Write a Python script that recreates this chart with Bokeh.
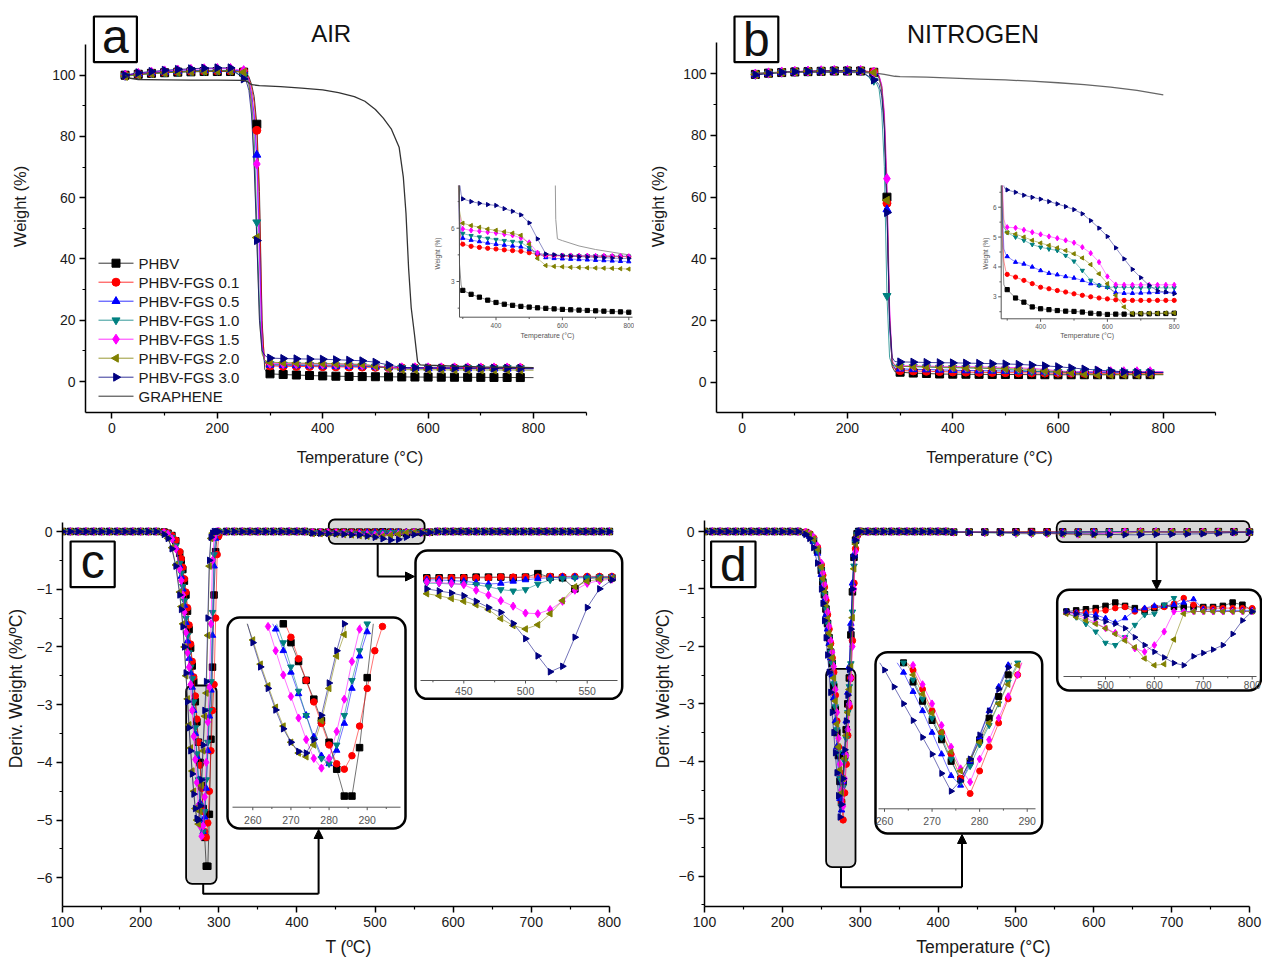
import math
from bokeh.plotting import figure
from bokeh.models import (Range1d, FixedTicker, Label, BoxAnnotation, Arrow, NormalHead)
from bokeh.layouts import column, row
from bokeh.embed import file_html
from bokeh.resources import INLINE
from bokeh.core.properties import value

FONT = "Liberation Sans"
NAN = float("nan")

# ----------------------------------------------------------------- data
series_names = ["PHBV", "PHBV-FGS 0.1", "PHBV-FGS 0.5", "PHBV-FGS 1.0",
                "PHBV-FGS 1.5", "PHBV-FGS 2.0", "PHBV-FGS 3.0"]
series_colors = ["#000000", "#ff0000", "#0000ff", "#008080", "#ff00ff", "#808000", "#000080"]
series_markers = ["square", "circle", "triangle", "inverted_triangle", "diamond", "triangle", "triangle"]
series_angles = [0.0, 0.0, 0.0, 0.0, 0.0, math.pi / 2, -math.pi / 2]
graphene_name = "GRAPHENE"

# TGA temperature grid (deg C)
tga_T = [25, 50, 75, 100, 125, 150, 175, 200, 225, 250,
         255, 260, 265, 270, 275, 280, 285, 290, 295,
         300, 325, 350, 375, 400, 425, 450, 475, 500, 525, 550,
         575, 600, 625, 650, 675, 700, 725, 750, 775, 800]

# TGA in air, weight (%)
air_phbv = [100.0, 100.3, 100.6, 100.8, 101.0, 101.1, 101.2, 101.2, 101.2, 101.0,
            100.5, 99.5, 97.0, 93.0, 84.0, 62.0, 20.0, 4.0, 2.8,
            2.5, 2.28, 2.12, 1.95, 1.82, 1.72, 1.66, 1.6, 1.56, 1.52, 1.49,
            1.46, 1.43, 1.41, 1.39, 1.37, 1.35, 1.33, 1.31, 1.29, 1.27]
air_fgs01 = [100.0, 100.4, 100.7, 101.0, 101.2, 101.3, 101.4, 101.4, 101.4, 101.2,
             100.5, 99.0, 96.0, 91.0, 82.0, 58.0, 18.0, 6.0, 5.3,
             5.1, 4.98, 4.92, 4.87, 4.83, 4.78, 4.74, 4.7, 4.62, 4.52, 4.46,
             4.45, 4.44, 4.44, 4.43, 4.43, 4.42, 4.42, 4.41, 4.41, 4.4]
air_fgs05 = [100.0, 100.5, 100.8, 101.1, 101.3, 101.5, 101.6, 101.6, 101.6, 101.4,
             100.3, 98.0, 94.0, 87.0, 74.0, 45.0, 12.0, 6.2, 5.6,
             5.44, 5.33, 5.25, 5.17, 5.1, 5.05, 5.0, 4.95, 4.8, 4.6, 4.35,
             4.3, 4.28, 4.26, 4.24, 4.22, 4.2, 4.18, 4.16, 4.14, 4.12]
air_fgs10 = [99.8, 100.2, 100.6, 100.9, 101.1, 101.3, 101.4, 101.5, 101.5, 99.6,
             99.0, 97.0, 92.0, 80.0, 52.0, 25.0, 10.0, 6.4, 5.9,
             5.7, 5.58, 5.5, 5.43, 5.36, 5.3, 5.25, 5.2, 4.9, 4.6, 4.5,
             4.48, 4.47, 4.46, 4.45, 4.45, 4.44, 4.43, 4.43, 4.42, 4.42]
air_fgs15 = [100.0, 100.6, 101.0, 101.4, 101.7, 101.9, 102.1, 102.2, 102.2, 101.5,
             100.5, 98.5, 93.0, 85.0, 71.0, 40.0, 12.0, 6.8, 6.2,
             5.96, 5.88, 5.83, 5.78, 5.73, 5.66, 5.6, 5.45, 5.2, 4.62, 4.48,
             4.47, 4.46, 4.46, 4.45, 4.45, 4.44, 4.44, 4.43, 4.43, 4.42]
air_fgs20 = [99.6, 100.1, 100.5, 100.8, 101.0, 101.2, 101.3, 101.4, 101.4, 101.0,
             100.0, 97.0, 90.0, 72.0, 47.0, 20.0, 9.0, 7.0, 6.5,
             6.28, 6.15, 6.05, 5.95, 5.88, 5.8, 5.72, 5.6, 5.1, 4.3, 3.9,
             3.85, 3.83, 3.8, 3.79, 3.77, 3.76, 3.75, 3.74, 3.72, 3.7]
air_fgs30 = [100.0, 100.8, 101.2, 101.6, 101.9, 102.1, 102.3, 102.4, 102.4, 98.8,
             98.0, 95.0, 87.0, 70.0, 46.0, 20.0, 10.0, 8.6, 7.9,
             7.65, 7.5, 7.4, 7.33, 7.28, 7.1, 6.95, 6.75, 6.3, 5.4, 4.55,
             4.5, 4.45, 4.42, 4.4, 4.38, 4.36, 4.34, 4.32, 4.3, 4.3]
graphene_air_T = [25, 35, 50, 100, 150, 200, 250, 258, 265, 280, 320, 360, 400, 430, 460,
                  480, 500, 515, 530, 545, 553, 558, 563, 568, 574, 580, 585, 600, 650,
                  700, 750, 800]
graphene_air_W = [100.0, 99.0, 98.6, 98.5, 98.4, 98.4, 98.3, 97.8, 96.9, 96.6, 96.3, 95.8,
                  95.2, 94.3, 93.0, 91.5, 88.8, 86.0, 82.5, 76.5, 66.7, 55.0, 37.0, 24.0,
                  15.6, 6.5, 5.4, 5.3, 5.0, 4.8, 4.65, 4.5]

# TGA in nitrogen, weight (%)
n2_phbv = [99.8, 100.2, 100.4, 100.6, 100.7, 100.8, 100.9, 100.9, 100.9, 100.5,
           100.2, 99.2, 96.0, 86.0, 60.0, 22.0, 5.0, 3.4, 3.3,
           3.24, 2.96, 2.82, 2.66, 2.6, 2.57, 2.54, 2.52, 2.51, 2.49, 2.45,
           2.43, 2.41, 2.42, 2.42, 2.42, 2.43, 2.43, 2.44, 2.44, 2.45]
n2_fgs01 = [99.8, 100.2, 100.5, 100.7, 100.8, 100.9, 101.0, 101.0, 101.0, 100.6,
            100.2, 99.0, 95.5, 85.0, 58.0, 20.0, 5.5, 4.2, 3.9,
            3.75, 3.66, 3.55, 3.44, 3.32, 3.27, 3.21, 3.16, 3.1, 3.05, 3.0,
            2.96, 2.93, 2.9, 2.88, 2.88, 2.88, 2.88, 2.88, 2.88, 2.88]
n2_fgs05 = [99.8, 100.2, 100.5, 100.7, 100.8, 100.9, 101.0, 101.0, 101.0, 100.4,
            100.0, 98.8, 95.0, 84.0, 56.0, 18.0, 6.0, 4.6, 4.45,
            4.35, 4.16, 4.1, 4.0, 3.88, 3.79, 3.74, 3.68, 3.63, 3.55, 3.44,
            3.38, 3.32, 3.14, 3.12, 3.12, 3.13, 3.14, 3.15, 3.15, 3.15]
n2_fgs10 = [99.7, 100.1, 100.4, 100.6, 100.7, 100.8, 100.9, 100.9, 100.8, 97.8,
            97.0, 95.0, 88.0, 70.0, 28.0, 8.0, 5.5, 5.3, 5.25,
            5.15, 5.0, 4.89, 4.75, 4.66, 4.6, 4.55, 4.38, 4.19, 3.88, 3.55,
            3.38, 3.32, 3.32, 3.31, 3.31, 3.3, 3.3, 3.3, 3.3, 3.3]
n2_fgs15 = [99.9, 100.3, 100.6, 100.8, 100.9, 101.0, 101.1, 101.1, 101.1, 100.5,
            100.3, 99.5, 96.5, 88.0, 66.0, 25.0, 7.0, 5.6, 5.4,
            5.33, 5.31, 5.24, 5.16, 5.09, 5.02, 4.96, 4.89, 4.81, 4.66, 4.46,
            4.16, 3.68, 3.41, 3.4, 3.4, 3.4, 3.4, 3.4, 3.4, 3.4]
n2_fgs20 = [99.8, 100.2, 100.5, 100.7, 100.8, 100.9, 101.0, 101.0, 101.0, 100.4,
            100.0, 98.5, 95.0, 84.0, 59.0, 20.0, 6.5, 5.4, 5.25,
            5.15, 5.1, 5.0, 4.89, 4.8, 4.72, 4.64, 4.55, 4.44, 4.3, 4.08,
            3.77, 3.44, 3.05, 2.66, 2.45, 2.45, 2.45, 2.45, 2.46, 2.46]
n2_fgs30 = [99.7, 100.2, 100.5, 100.7, 100.8, 100.9, 101.0, 101.0, 101.0, 98.0,
            97.5, 96.5, 93.0, 82.0, 55.0, 20.0, 8.0, 6.7, 6.6,
            6.58, 6.5, 6.4, 6.33, 6.27, 6.19, 6.11, 6.02, 5.92, 5.78, 5.55,
            5.3, 5.02, 4.64, 4.27, 3.92, 3.64, 3.38, 3.2, 3.16, 3.1]
graphene_n2_T = [25, 50, 100, 150, 200, 250, 270, 290, 300, 350, 400, 450, 500, 550,
                 600, 650, 700, 750, 800]
graphene_n2_W = [100.2, 100.4, 100.5, 100.5, 100.5, 100.3, 99.8, 99.2, 99.1, 98.9, 98.6,
                 98.3, 98.0, 97.6, 97.1, 96.5, 95.7, 94.6, 93.2]

# DTG: temperature grids (deg C) and derivative weight (%/deg C)
dtg_T_lo = [100, 110, 120, 130, 140, 150, 160, 170, 180, 190, 200, 210, 220]
dtg_V_lo = [0, 0, 0, 0, 0, 0, 0, 0, 0, 0, 0, 0, 0]
dtg_T_peak = [230, 235, 240, 245, 250, 252, 254, 256, 258, 260, 262, 264, 266, 268, 270,
              272, 274, 276, 278, 280, 282, 284, 286, 288, 290, 292, 294, 296, 298, 300]
dtg_T_mid = [310, 320, 330, 340, 350, 360, 370, 380, 390, 400, 410]
dtg_V_mid = [0, 0, 0, 0, 0, 0, 0, 0, 0, 0, 0]

air_dtg_phbv = [-0.01, -0.03, -0.07, -0.16, -0.38, -0.5, -0.66, -0.86, -1.1, -1.38, -1.7,
                -2.02, -2.33, -2.6, -2.95, -3.3, -3.65, -4.0, -4.4, -4.8, -5.3, -5.8,
                -5.8, -4.9, -3.6, -2.35, -1.1, -0.35, -0.08, -0.02]
air_dtg_fgs01 = [-0.01, -0.03, -0.07, -0.15, -0.35, -0.47, -0.62, -0.82, -1.05, -1.32,
                 -1.62, -1.95, -2.25, -2.52, -2.85, -3.25, -3.65, -4.05, -4.45, -4.85,
                 -5.2, -5.3, -5.05, -4.5, -3.8, -3.1, -2.65, -1.5, -0.4, -0.08]
air_dtg_fgs05 = [-0.02, -0.05, -0.12, -0.28, -0.6, -0.78, -1.0, -1.28, -1.58, -1.9, -2.2,
                 -2.45, -2.7, -3.1, -3.5, -3.9, -4.3, -4.7, -5.05, -5.2, -4.95, -4.45,
                 -3.8, -3.2, -2.75, -1.8, -0.6, -0.12, -0.03, 0.0]
air_dtg_fgs10 = [-0.02, -0.04, -0.1, -0.25, -0.55, -0.72, -0.95, -1.2, -1.5, -1.8, -2.1,
                 -2.35, -2.55, -2.95, -3.4, -3.85, -4.3, -4.75, -5.1, -5.2, -4.85, -4.3,
                 -3.65, -3.1, -2.6, -1.4, -0.4, -0.08, -0.02, 0.0]
air_dtg_fgs15 = [-0.02, -0.05, -0.13, -0.3, -0.65, -0.85, -1.1, -1.4, -1.75, -2.1, -2.35,
                 -2.65, -3.1, -3.55, -3.95, -4.35, -4.75, -5.1, -5.28, -5.1, -4.6, -4.0,
                 -3.3, -2.7, -1.6, -0.5, -0.1, -0.02, 0.0, 0.0]
air_dtg_fgs20 = [-0.05, -0.12, -0.28, -0.58, -1.05, -1.3, -1.6, -2.0, -2.5, -2.9, -3.35,
                 -3.75, -4.15, -4.5, -4.8, -5.0, -5.07, -4.85, -4.4, -3.8, -3.2, -2.8,
                 -1.8, -0.6, -0.12, -0.03, 0.0, 0.0, 0.0, 0.0]
air_dtg_fgs30 = [-0.05, -0.12, -0.3, -0.6, -1.1, -1.35, -1.65, -2.0, -2.45, -2.95, -3.4,
                 -3.8, -4.2, -4.55, -4.8, -4.97, -5.0, -4.75, -4.3, -3.7, -3.1, -2.6,
                 -1.5, -0.5, -0.1, -0.03, 0.0, 0.0, 0.0, 0.0]

air_zoom_T = [420, 430, 440, 450, 460, 470, 480, 490, 500, 510, 520, 530, 540, 550, 560, 570]
air_zoom_phbv = [-0.012, -0.012, -0.012, -0.012, -0.011, -0.011, -0.011, -0.012, -0.011,
                 -0.006, -0.011, -0.012, -0.028, -0.013, -0.012, -0.012]
air_zoom_fgs01 = [-0.013, -0.013, -0.012, -0.012, -0.012, -0.012, -0.011, -0.011, -0.011,
                  -0.011, -0.01, -0.01, -0.01, -0.01, -0.01, -0.01]
air_zoom_fgs05 = [-0.015, -0.015, -0.016, -0.017, -0.019, -0.021, -0.02, -0.017, -0.015,
                  -0.013, -0.012, -0.011, -0.011, -0.011, -0.011, -0.011]
air_zoom_fgs10 = [-0.02, -0.02, -0.021, -0.021, -0.022, -0.025, -0.029, -0.031, -0.029,
                  -0.021, -0.015, -0.013, -0.012, -0.012, -0.011, -0.011]
air_zoom_fgs15 = [-0.018, -0.019, -0.02, -0.022, -0.03, -0.037, -0.045, -0.053, -0.063,
                  -0.064, -0.058, -0.046, -0.03, -0.02, -0.016, -0.014]
air_zoom_fgs20 = [-0.035, -0.038, -0.042, -0.046, -0.051, -0.058, -0.071, -0.081, -0.086,
                  -0.08, -0.064, -0.045, -0.025, -0.017, -0.014, -0.013]
air_zoom_fgs30 = [-0.028, -0.031, -0.034, -0.038, -0.046, -0.055, -0.062, -0.078, -0.1,
                  -0.125, -0.148, -0.14, -0.098, -0.055, -0.028, -0.015]
air_T_tail = [580, 590, 600, 610, 620, 630, 640, 650, 660, 670, 680, 690, 700, 710, 720,
              730, 740, 750, 760, 770, 780, 790, 800]
air_V_tail = [0, 0, 0, 0, 0, 0, 0, 0, 0, 0, 0, 0, 0, 0, 0, 0, 0, 0, 0, 0, 0, 0, 0]

n2_dtg_phbv = [-0.02, -0.06, -0.15, -0.33, -0.68, -0.88, -1.1, -1.35, -1.6, -1.85, -2.1,
               -2.3, -2.7, -3.1, -3.5, -3.9, -4.35, -4.72, -4.35, -3.9, -3.45, -3.0,
               -2.55, -1.8, -1.05, -0.45, -0.15, -0.04, 0.0, 0.0]
n2_dtg_fgs01 = [-0.01, -0.04, -0.11, -0.27, -0.58, -0.76, -0.97, -1.2, -1.45, -1.7, -1.95,
                -2.2, -2.45, -2.85, -3.3, -3.75, -4.2, -4.7, -5.02, -4.55, -4.05, -3.55,
                -3.05, -2.55, -1.9, -0.9, -0.3, -0.08, -0.02, 0.0]
n2_dtg_fgs05 = [-0.03, -0.08, -0.18, -0.38, -0.75, -0.95, -1.2, -1.45, -1.7, -1.95, -2.2,
                -2.5, -2.9, -3.3, -3.75, -4.2, -4.65, -4.85, -4.35, -3.85, -3.3, -2.8,
                -2.35, -1.6, -0.9, -0.4, -0.12, -0.03, 0.0, 0.0]
n2_dtg_fgs10 = [-0.02, -0.06, -0.15, -0.33, -0.68, -0.88, -1.1, -1.35, -1.6, -1.85, -2.1,
                -2.3, -2.65, -3.05, -3.45, -3.85, -4.3, -4.78, -4.45, -4.0, -3.6, -3.15,
                -2.7, -2.3, -1.4, -0.6, -0.2, -0.05, 0.0, 0.0]
n2_dtg_fgs15 = [-0.01, -0.04, -0.1, -0.25, -0.55, -0.72, -0.92, -1.15, -1.4, -1.65, -1.9,
                -2.1, -2.35, -2.75, -3.15, -3.6, -4.05, -4.5, -4.78, -4.3, -3.9, -3.45,
                -3.0, -2.55, -2.0, -1.0, -0.35, -0.1, -0.02, 0.0]
n2_dtg_fgs20 = [-0.02, -0.05, -0.13, -0.3, -0.62, -0.82, -1.03, -1.27, -1.52, -1.77, -2.0,
                -2.2, -2.55, -2.95, -3.35, -3.75, -4.15, -4.55, -4.3, -3.95, -3.55, -3.15,
                -2.75, -2.35, -1.5, -0.65, -0.22, -0.06, 0.0, 0.0]
n2_dtg_fgs30 = [-0.05, -0.12, -0.28, -0.55, -1.0, -1.25, -1.55, -1.85, -2.15, -2.45, -2.8,
                -3.15, -3.5, -3.85, -4.2, -4.6, -4.97, -4.75, -4.3, -3.8, -3.3, -2.85,
                -2.4, -1.7, -1.0, -0.45, -0.15, -0.04, 0.0, 0.0]

n2_zoom_T = [420, 440, 460, 480, 500, 520, 540, 560, 580, 600, 620, 640, 660, 680, 700,
             720, 740, 760, 780, 800]
n2_zoom_phbv = [-0.01, -0.009, -0.008, -0.007, -0.005, -0.002, -0.005, -0.007, -0.01, -0.007,
                -0.005, -0.006, -0.006, -0.006, -0.006, -0.006, -0.005, -0.002, -0.004, -0.009]
n2_zoom_fgs01 = [-0.011, -0.011, -0.011, -0.01, -0.009, -0.007, -0.006, -0.01, -0.008, -0.006,
                 -0.006, -0.003, 0.002, -0.004, -0.007, -0.007, -0.007, -0.007, -0.007, -0.007]
n2_zoom_fgs05 = [-0.01, -0.011, -0.012, -0.013, -0.016, -0.02, -0.016, -0.009, -0.007, -0.005,
                 -0.005, -0.004, -0.002, 0.001, -0.008, -0.009, -0.009, -0.009, -0.009, -0.009]
n2_zoom_fgs10 = [-0.011, -0.015, -0.021, -0.028, -0.038, -0.04, -0.033, -0.022, -0.013, -0.012,
                 -0.004, 0.002, -0.01, -0.01, -0.01, -0.01, -0.01, -0.01, -0.01, -0.01]
n2_zoom_fgs15 = [-0.011, -0.013, -0.016, -0.02, -0.025, -0.029, -0.034, -0.043, -0.046, -0.04,
                 -0.028, -0.01, -0.01, -0.01, -0.01, -0.01, -0.01, -0.01, -0.01, -0.01]
n2_zoom_fgs20 = [-0.012, -0.015, -0.018, -0.021, -0.025, -0.03, -0.036, -0.042, -0.052, -0.058,
                 -0.057, -0.035, -0.012, -0.01, -0.01, -0.01, -0.01, -0.01, -0.01, -0.01]
n2_zoom_fgs30 = [-0.01, -0.012, -0.014, -0.016, -0.019, -0.021, -0.025, -0.033, -0.04, -0.046,
                 -0.051, -0.056, -0.058, -0.05, -0.047, -0.044, -0.04, -0.03, -0.018, -0.01]

air_tga = [air_phbv, air_fgs01, air_fgs05, air_fgs10, air_fgs15, air_fgs20, air_fgs30]
n2_tga = [n2_phbv, n2_fgs01, n2_fgs05, n2_fgs10, n2_fgs15, n2_fgs20, n2_fgs30]
air_dtg = [air_dtg_phbv, air_dtg_fgs01, air_dtg_fgs05, air_dtg_fgs10, air_dtg_fgs15,
           air_dtg_fgs20, air_dtg_fgs30]
air_zoom = [air_zoom_phbv, air_zoom_fgs01, air_zoom_fgs05, air_zoom_fgs10, air_zoom_fgs15,
            air_zoom_fgs20, air_zoom_fgs30]
n2_dtg = [n2_dtg_phbv, n2_dtg_fgs01, n2_dtg_fgs05, n2_dtg_fgs10, n2_dtg_fgs15,
          n2_dtg_fgs20, n2_dtg_fgs30]
n2_zoom = [n2_zoom_phbv, n2_zoom_fgs01, n2_zoom_fgs05, n2_zoom_fgs10, n2_zoom_fgs15,
           n2_zoom_fgs20, n2_zoom_fgs30]


# ----------------------------------------------------------------- helpers
class Cal:
    """Linear map between a value axis and page pixels (two calibration points)."""
    def __init__(self, va, pa, vb, pb):
        self.va, self.pa = va, pa
        self.k = (vb - va) / (pb - pa)

    def v(self, p):
        return self.va + (p - self.pa) * self.k


class Panel:
    def __init__(self, ox, oy, w, h, fl, fr, ft, fb, cx, cy):
        self.cx, self.cy = cx, cy
        self.fl, self.fr, self.ft, self.fb = fl, fr, ft, fb
        p = figure(width=w, height=h,
                   x_range=Range1d(cx.v(fl), cx.v(fr)),
                   y_range=Range1d(cy.v(fb), cy.v(ft)),
                   output_backend="svg", toolbar_location=None,
                   min_border_left=fl - ox, min_border_right=ox + w - fr,
                   min_border_top=ft - oy, min_border_bottom=oy + h - fb)
        p.outline_line_color = None
        p.grid.visible = False
        p.background_fill_color = "white"
        p.border_fill_color = "white"
        self.p = p

    def add_inset(self, name, cx, cy):
        self.p.extra_x_ranges[name] = Range1d(cx.v(self.fl), cx.v(self.fr))
        self.p.extra_y_ranges[name] = Range1d(cy.v(self.fb), cy.v(self.ft))

    def box(self, l, t, r, b, fill, lw, radius=0, level="underlay"):
        self.p.add_layout(BoxAnnotation(left=self.cx.v(l), right=self.cx.v(r),
                                        top=self.cy.v(t), bottom=self.cy.v(b),
                                        fill_color=fill, fill_alpha=1.0,
                                        line_color="black", line_alpha=1.0, line_width=lw,
                                        border_radius=radius, level=level))

    def label(self, px, py, text, size, angle=0.0, align="center", color="#111111"):
        self.p.add_layout(Label(x=self.cx.v(px), y=self.cy.v(py), text=text,
                                text_font=FONT, text_font_size=size,
                                text_align=align, text_baseline="middle",
                                angle=angle, text_color=color))

    def connector(self, pts):
        xs = [self.cx.v(a) for a, b in pts]
        ys = [self.cy.v(b) for a, b in pts]
        self.p.line(xs[:-1], ys[:-1], line_color="black", line_width=2)
        self.p.add_layout(Arrow(end=NormalHead(size=9, fill_color="black", line_color="black"),
                                x_start=xs[-2], y_start=ys[-2], x_end=xs[-1], y_end=ys[-1],
                                line_color="black", line_width=2))


def main_axes(P, xt, xminor, xb, yt, yminor, yb, xlabel, ylabel, xstand, ystand,
              tick_fs="14px", lab_fs="16.5px"):
    specs = ((P.p.xaxis[0], xt, xminor, xb, xlabel, xstand),
             (P.p.yaxis[0], yt, yminor, yb, ylabel, ystand))
    for ax, t, mn, b, lab, st in specs:
        ax.ticker = FixedTicker(ticks=t, minor_ticks=mn)
        ax.bounds = b
        ax.axis_label = lab
        ax.axis_label_text_font = FONT
        ax.axis_label_text_font_size = lab_fs
        ax.axis_label_text_font_style = "normal"
        ax.axis_label_text_color = "#1a1a1a"
        ax.axis_label_standoff = st
        ax.major_label_text_font = FONT
        ax.major_label_text_font_size = tick_fs
        ax.major_label_text_color = "#1a1a1a"
        ax.major_label_standoff = 4
        ax.axis_line_width = 1.5
        ax.major_tick_line_width = 1.5
        ax.minor_tick_line_width = 1.2
        ax.major_tick_in = 0
        ax.major_tick_out = 6
        ax.minor_tick_in = 0
        ax.minor_tick_out = 3


def clip_poly(xs, ys, lo, hi):
    ox, oy = [], []
    for i in range(len(xs)):
        x, y = xs[i], ys[i]
        ins = lo <= y <= hi
        if i == 0:
            if ins:
                ox.append(x); oy.append(y)
            continue
        x0, y0 = xs[i - 1], ys[i - 1]
        ins0 = lo <= y0 <= hi
        if ins0 and ins:
            ox.append(x); oy.append(y)
            continue
        pts = []
        for bnd in (lo, hi):
            if (y0 - bnd) * (y - bnd) < 0:
                t = (bnd - y0) / (y - y0)
                pts.append((t, x0 + t * (x - x0), bnd))
        pts.sort()
        if ins0 and not ins and pts:
            ox += [pts[0][1], NAN]; oy += [pts[0][2], NAN]
        elif ins and not ins0 and pts:
            ox += [pts[-1][1], x]; oy += [pts[-1][2], y]
        elif len(pts) == 2:
            ox += [pts[0][1], pts[1][1], NAN]; oy += [pts[0][2], pts[1][2], NAN]
    return ox, oy


def scatter(p, xs, ys, i, size, **kw):
    return p.scatter(xs, ys, marker=series_markers[i], angle=series_angles[i],
                     size=size * (1.25 if series_markers[i] == "diamond" else 1.0),
                     fill_color=series_colors[i], line_color=series_colors[i], **kw)


def inset_xaxis(P, name, cx, cy, py, px0, px1, major, minor, labels, py_lab, fs,
                color="#555555", tick=3):
    p = P.p
    kw = dict(x_range_name=name, y_range_name=name, line_color=color, line_width=1)
    y0, y1, y2 = cy.v(py), cy.v(py + tick), cy.v(py + tick * 0.6)
    p.segment([cx.v(px0)], [y0], [cx.v(px1)], [y0], **kw)
    p.segment(major, [y0] * len(major), major, [y1] * len(major), **kw)
    p.segment(minor, [y0] * len(minor), minor, [y2] * len(minor), **kw)
    p.text(major, [cy.v(py_lab)] * len(major), text=labels, x_range_name=name,
           y_range_name=name, text_font=value(FONT), text_font_size=value(fs),
           text_color=color, text_align="center", text_baseline="middle")


def inset_yaxis(P, name, cx, cy, px, py0, py1, major, minor, labels, px_lab, fs,
                color="#555555", tick=3):
    p = P.p
    kw = dict(x_range_name=name, y_range_name=name, line_color=color, line_width=1)
    x0, x1, x2 = cx.v(px), cx.v(px - tick), cx.v(px - tick * 0.6)
    p.segment([x0], [cy.v(py0)], [x0], [cy.v(py1)], **kw)
    p.segment([x0] * len(major), major, [x1] * len(major), major, **kw)
    p.segment([x0] * len(minor), minor, [x2] * len(minor), minor, **kw)
    p.text([cx.v(px_lab)] * len(major), major, text=labels, x_range_name=name,
           y_range_name=name, text_font=value(FONT), text_font_size=value(fs),
           text_color=color, text_align="right", text_baseline="middle")


def panel_letter(P, l, t, r, b, letter):
    P.box(l, t, r, b, "white", 2.2, 0, level="annotation")
    P.label((l + r) / 2, (t + b) / 2 - (0 if letter in "bd" else 3), letter, "48px")


# ----------------------------------------------------------------- panel a (air TGA)
A = Panel(0, 0, 634, 470, 85, 634, 0, 412, Cal(0, 111.4, 800, 533.0), Cal(100, 74.7, 0, 381.0))
main_axes(A, [0, 200, 400, 600, 800], [100, 300, 500, 700, 900], (A.cx.v(85), 900),
          [0, 20, 40, 60, 80, 100], [10, 30, 50, 70, 90], (A.cy.v(412), 110),
          "Temperature (°C)", "Weight (%)", 12, 20)

for i, ys in enumerate(air_tga):
    A.p.line(tga_T, ys, line_color=series_colors[i], line_width=1, line_alpha=0.75)
for i, ys in enumerate(air_tga):
    mx = [t for t in tga_T if t % 25 == 0 and t <= 775]
    my = [y for t, y in zip(tga_T, ys) if t % 25 == 0 and t <= 775]
    scatter(A.p, mx, my, i, 8)
A.p.line(graphene_air_T, graphene_air_W, line_color="#333333", line_width=1.3)

# legend (drawn so the 2.0 / 3.0 symbols keep their left / right orientation)
for k in range(8):
    py = 262.7 + 19 * k
    ly = A.cy.v(py)
    col = series_colors[k] if k < 7 else "#333333"
    A.p.line([A.cx.v(98), A.cx.v(133)], [ly, ly], line_color=col, line_width=1,
             line_alpha=0.8 if k < 7 else 1.0)
    if k < 7:
        scatter(A.p, [A.cx.v(115.5)], [ly], k, 8)
    A.label(138, py, series_names[k] if k < 7 else graphene_name, "15px", align="left",
            color="#1a1a1a")

# inset a
cax, cay = Cal(300, 462.3, 800, 628.3), Cal(6, 227.7, 3, 281.0)
A.add_inset("ia", cax, cay)
ylo, yhi = cay.v(316.7), cay.v(185)
for i, ys in enumerate(air_tga):
    lx, ly = clip_poly(tga_T, ys, ylo, yhi)
    A.p.line(lx, ly, x_range_name="ia", y_range_name="ia", line_color=series_colors[i],
             line_width=1, line_alpha=0.45)
glx, gly = clip_poly(graphene_air_T, graphene_air_W, ylo, yhi)
A.p.line(glx, gly, x_range_name="ia", y_range_name="ia", line_color="#999999", line_width=1)
for i, ys in enumerate(air_tga):
    mx = [t for t, y in zip(tga_T, ys) if t >= 300 and ylo <= y <= yhi]
    my = [y for t, y in zip(tga_T, ys) if t >= 300 and ylo <= y <= yhi]
    scatter(A.p, mx, my, i, 4.2, x_range_name="ia", y_range_name="ia")
inset_xaxis(A, "ia", cax, cay, 316.7, 459, 632, [400, 600, 800], [300, 500, 700],
            ["400", "600", "800"], 325, "6.5px")
inset_yaxis(A, "ia", cax, cay, 459, 316.7, 185, [3, 6], [1.5, 4.5, 7.5], ["3", "6"], 454, "6.5px")
A.p.text([cax.v(547)], [cay.v(335)], text=["Temperature (°C)"], x_range_name="ia",
         y_range_name="ia", text_font=value(FONT), text_font_size=value("7px"),
         text_color="#555555", text_align="center", text_baseline="middle")
A.p.text([cax.v(437)], [cay.v(253)], text=["Weight (%)"], x_range_name="ia",
         y_range_name="ia", text_font=value(FONT), text_font_size=value("6.5px"),
         text_color="#555555", text_align="center", text_baseline="middle", angle=math.pi / 2)

panel_letter(A, 93.4, 16, 136.4, 61.7, "a")
A.label(330.7, 33, "AIR", "24px")

# ----------------------------------------------------------------- panel b (N2 TGA)
B = Panel(634, 0, 628, 470, 716, 1262, 0, 412, Cal(0, 741.7, 800, 1162.8), Cal(100, 73.3, 0, 381.7))
main_axes(B, [0, 200, 400, 600, 800], [100, 300, 500, 700, 900], (B.cx.v(716), 900),
          [0, 20, 40, 60, 80, 100], [10, 30, 50, 70, 90], (B.cy.v(412), 110),
          "Temperature (°C)", "Weight (%)", 12, 13)
for i, ys in enumerate(n2_tga):
    B.p.line(tga_T, ys, line_color=series_colors[i], line_width=1, line_alpha=0.75)
B.p.line(graphene_n2_T, graphene_n2_W, line_color="#666666", line_width=1.3)
for i, ys in enumerate(n2_tga):
    mx = [t for t in tga_T if t % 25 == 0 and t <= 775]
    my = [y for t, y in zip(tga_T, ys) if t % 25 == 0 and t <= 775]
    scatter(B.p, mx, my, i, 8)

cbx, cby = Cal(300, 1006.7, 800, 1173.7), Cal(6, 206.7, 3, 296.3)
B.add_inset("ib", cbx, cby)
ylo, yhi = cby.v(318.3), cby.v(185)
for i, ys in enumerate(n2_tga):
    lx, ly = clip_poly(tga_T, ys, ylo, yhi)
    B.p.line(lx, ly, x_range_name="ib", y_range_name="ib", line_color=series_colors[i],
             line_width=1, line_alpha=0.45)
for i, ys in enumerate(n2_tga):
    mx = [t for t, y in zip(tga_T, ys) if t >= 300 and ylo <= y <= yhi]
    my = [y for t, y in zip(tga_T, ys) if t >= 300 and ylo <= y <= yhi]
    scatter(B.p, mx, my, i, 4.2, x_range_name="ib", y_range_name="ib")
inset_xaxis(B, "ib", cbx, cby, 318.3, 1000.7, 1176, [400, 600, 800], [300, 500, 700],
            ["400", "600", "800"], 326, "6.5px")
inset_yaxis(B, "ib", cbx, cby, 1000.7, 318.3, 185, [3, 4, 5, 6], [2.5, 3.5, 4.5, 5.5, 6.5],
            ["3", "4", "5", "6"], 996, "6.5px")
B.p.text([cbx.v(1086.7)], [cby.v(335)], text=["Temperature (°C)"], x_range_name="ib",
         y_range_name="ib", text_font=value(FONT), text_font_size=value("7px"),
         text_color="#555555", text_align="center", text_baseline="middle")
B.p.text([cbx.v(985)], [cby.v(253)], text=["Weight (%)"], x_range_name="ib",
         y_range_name="ib", text_font=value(FONT), text_font_size=value("6.5px"),
         text_color="#555555", text_align="center", text_baseline="middle", angle=math.pi / 2)

panel_letter(B, 734, 16, 777.8, 61.7, "b")
B.label(972.5, 33, "NITROGEN", "25px")


# ----------------------------------------------------------------- DTG panels
def dtg_panel(P, peak, zoom, zoom_T, tail_T, tail_V):
    for i in range(7):
        T = dtg_T_lo + dtg_T_peak + dtg_T_mid + zoom_T + tail_T
        V = dtg_V_lo + peak[i] + dtg_V_mid + zoom[i] + tail_V
        P.p.line(T, V, line_color=series_colors[i], line_width=1, line_alpha=0.6)
        scatter(P.p, T, V, i, 6.5)


def dtg_peak_inset(P, name, cx, cy, top, peak, size):
    P.add_inset(name, cx, cy)
    for i in range(7):
        lx, ly = clip_poly(dtg_T_peak, peak[i], -20, top)
        P.p.line(lx, ly, x_range_name=name, y_range_name=name, line_color=series_colors[i],
                 line_width=1, line_alpha=0.55)
    for i in range(7):
        mx = [t for t, y in zip(dtg_T_peak, peak[i]) if y <= top]
        my = [y for y in peak[i] if y <= top]
        scatter(P.p, mx, my, i, size, x_range_name=name, y_range_name=name)


def dtg_zoom_inset(P, name, cx, cy, zoom_T, zoom, size):
    P.add_inset(name, cx, cy)
    for i in range(7):
        P.p.line(zoom_T, zoom[i], x_range_name=name, y_range_name=name,
                 line_color=series_colors[i], line_width=1, line_alpha=0.55)
    for i in range(7):
        scatter(P.p, zoom_T, zoom[i], i, size, x_range_name=name, y_range_name=name)


# panel c
C = Panel(0, 470, 634, 490, 62, 634, 470, 906, Cal(100, 62.0, 800, 608.9), Cal(0, 531.0, -6, 877.3))
main_axes(C, [100, 200, 300, 400, 500, 600, 700, 800],
          [150, 250, 350, 450, 550, 650, 750], (100, 800),
          [-6, -5, -4, -3, -2, -1, 0], [-6.5, -5.5, -4.5, -3.5, -2.5, -1.5, -0.5],
          (C.cy.v(906), 0.16), "T (ºC)", "Deriv. Weight (%/ºC)", 7, 8,
          lab_fs="17.5px")
C.box(185.6, 685, 216.1, 883.3, "#d8d8d8", 1.8, 6)
C.box(328.3, 519, 424.1, 543.3, "#d8d8d8", 1.8, 6)
C.box(227, 617, 405, 828, "white", 2.5, 12)
C.box(415, 550, 621.7, 698.3, "white", 2.5, 12)
dtg_panel(C, air_dtg, air_zoom, air_zoom_T, air_T_tail, air_V_tail)

cc1x, cc1y = Cal(260, 252.3, 290, 366.7), Cal(-2.6, 623.3, -5.85, 798.3)
dtg_peak_inset(C, "c1", cc1x, cc1y, -2.6, air_dtg, 6.5)
inset_xaxis(C, "c1", cc1x, cc1y, 806.7, 232, 400, [260, 270, 280, 290], [265, 275, 285, 295],
            ["260", "270", "280", "290"], 819, "10.5px")
cc2x, cc2y = Cal(450, 463.3, 550, 586.7), Cal(-0.012, 577.3, -0.15, 672.7)
dtg_zoom_inset(C, "c2", cc2x, cc2y, air_zoom_T, air_zoom, 6.5)
inset_xaxis(C, "c2", cc2x, cc2y, 680, 420, 617, [450, 500, 550], [425, 475, 525],
            ["450", "500", "550"], 690.7, "10.5px")
C.connector([(202.7, 883.3), (202.7, 893.3), (318.1, 893.3), (318.1, 829)])
C.connector([(377.2, 543.3), (377.2, 576), (414, 576)])
panel_letter(C, 70.1, 541, 114.2, 586.7, "c")

# panel d
D = Panel(634, 470, 628, 490, 704, 1262, 470, 906, Cal(100, 704.0, 800, 1249.0), Cal(0, 531.0, -6, 875.7))
main_axes(D, [100, 200, 300, 400, 500, 600, 700, 800],
          [150, 250, 350, 450, 550, 650, 750], (100, 800),
          [-6, -5, -4, -3, -2, -1, 0], [-6.5, -5.5, -4.5, -3.5, -2.5, -1.5, -0.5],
          (D.cy.v(906), 0.2), "Temperature (°C)", "Deriv. Weight (%/ºC)", 7, 3,
          lab_fs="17.5px")
D.box(825.6, 668.3, 855, 866.7, "#d8d8d8", 1.8, 6)
D.box(1056.2, 520.7, 1249, 541.7, "#d8d8d8", 1.8, 6)
D.box(875, 651.7, 1041.7, 833, "white", 2.5, 12)
D.box(1056.7, 589.3, 1260.5, 690, "white", 2.5, 12)
dtg_panel(D, n2_dtg, n2_zoom, n2_zoom_T, [], [])

cd1x, cd1y = Cal(260, 884.0, 290, 1026.7), Cal(-2.3, 662.3, -5.06, 795.0)
dtg_peak_inset(D, "d1", cd1x, cd1y, -2.3, n2_dtg, 6)
inset_xaxis(D, "d1", cd1x, cd1y, 808.3, 878, 1035, [260, 270, 280, 290], [265, 275, 285],
            ["260", "270", "280", "290"], 820, "10.5px")
cd2x, cd2y = Cal(500, 1105.0, 800, 1251.7), Cal(-0.01, 611.0, -0.06, 667.0)
dtg_zoom_inset(D, "d2", cd2x, cd2y, n2_zoom_T, n2_zoom, 5.5)
inset_xaxis(D, "d2", cd2x, cd2y, 676, 1063, 1256, [500, 600, 700, 800], [450, 550, 650, 750],
            ["500", "600", "700", "800"], 684.5, "10px")
D.connector([(840.5, 866.7), (840.5, 886.7), (961.5, 886.7), (961.5, 834)])
D.connector([(1156.2, 541.7), (1156.2, 589)])
panel_letter(D, 710.6, 541, 755, 586.7, "d")

layout = column(row(A.p, B.p), row(C.p, D.p))
open("out.html", "w").write(file_html(layout, INLINE, "TGA / DTG"))
